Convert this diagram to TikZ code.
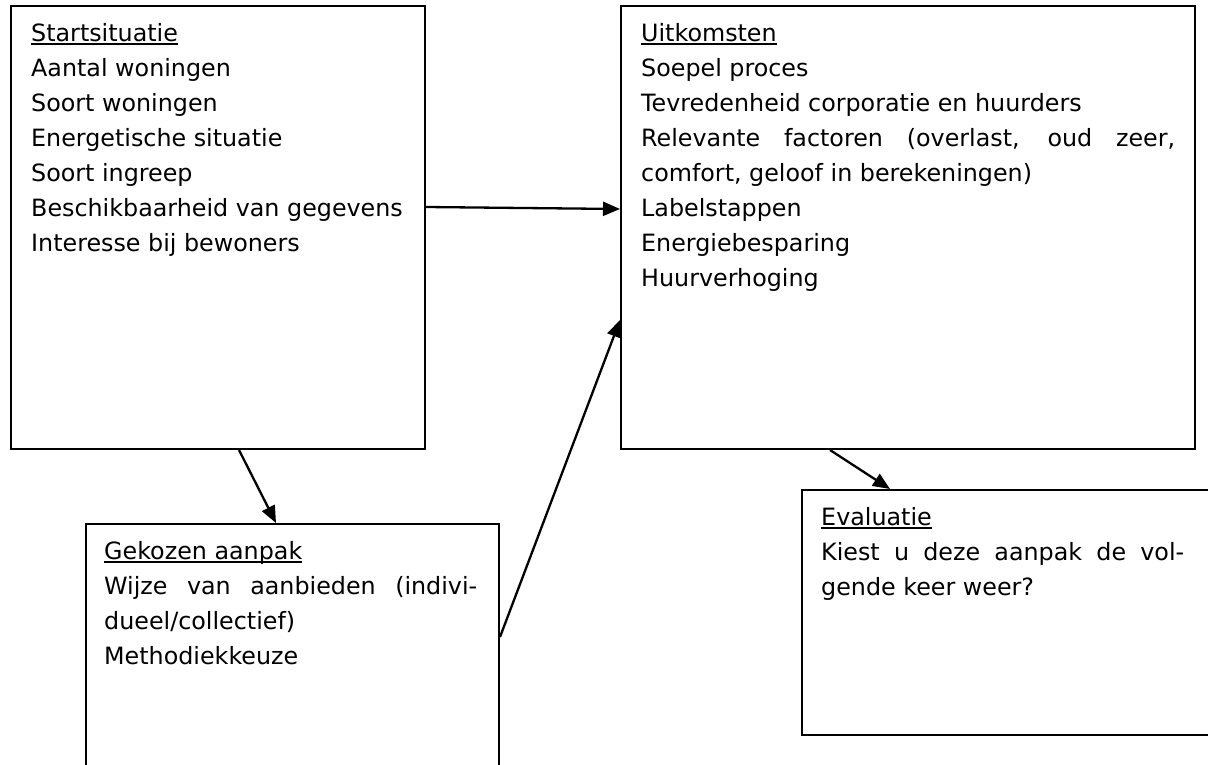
\documentclass[tikz,border=0pt]{standalone}
\usepackage{fontspec}
\setmainfont{DejaVu Sans}
\usetikzlibrary{positioning,arrows.meta,calc}

\newcommand{\kop}[1]{\setbox0\hbox{#1}\rlap{\vrule height -1.5pt depth 3.7pt width \wd0}\box0}

\begin{document}
\begin{tikzpicture}[x=1pt,y=-1pt,>={Triangle[length=17pt,width=14pt]},
  box/.style={draw,line width=2pt,anchor=north west,inner sep=0pt},
  boxtext/.style={anchor=north west,inner sep=0pt,align=justify,
    font=\fontsize{23.8}{35}\selectfont},
  conn/.style={->,line width=2.3pt}]
  \useasboundingbox (0,0) rectangle (1208,765);
  \clip (0,0) rectangle (1208,765);

  \node[box,minimum width=414pt,minimum height=443pt] (start) at (10,5) {};
  \node[box,minimum width=574pt,minimum height=443pt] (uitk) at (620,5) {};
  \node[box,minimum width=413pt,minimum height=300pt] (aanpak) at (85,523) {};
  \node[box,minimum width=440pt,minimum height=245pt] (eval) at (801,489) {};

  \node[boxtext,text width=380pt,below right=12pt and 21pt of start.north west] (startT)
    {\strut\kop{Startsituatie}\\ Aantal woningen\\ Soort woningen\\ Energetische situatie\\
     Soort ingreep\\ Beschikbaarheid van gegevens\\ Interesse bij bewoners};
  \node[boxtext,text width=534pt,below right=12pt and 21pt of uitk.north west] (uitkT)
    {\strut\kop{Uitkomsten}\\ Soepel proces\\ Tevredenheid corporatie en huurders\\
     Relevante factoren (overlast, oud zeer,\linebreak comfort, geloof in berekeningen)\\
     Labelstappen\\ Energiebesparing\\ Huurverhoging};
  \node[boxtext,text width=373pt,below right=12pt and 19pt of aanpak.north west] (aanpakT)
    {\strut\kop{Gekozen aanpak}\\ Wijze van aanbieden (indivi-\linebreak dueel/collectief)\\
     Methodiekkeuze};
  \node[boxtext,text width=363pt,below right=12pt and 20pt of eval.north west] (evalT)
    {\strut\kop{Evaluatie}\\ Kiest u deze aanpak de vol-\linebreak gende keer weer?};

  \draw[conn] ($(start.north east)+(0,202)$) -- ($(uitk.north west)+(0,204)$);
  \draw[conn] ($(start.south west)+(229,0)$) -- ($(aanpak.north west)+(191,0)$);
  \draw[conn] ($(aanpak.north east)+(0,114)$) -- ($(uitk.north west)+(0,315)$);
  \draw[conn] ($(uitk.south west)+(210,0)$) -- ($(eval.north west)+(89,0)$);
\end{tikzpicture}
\end{document}
